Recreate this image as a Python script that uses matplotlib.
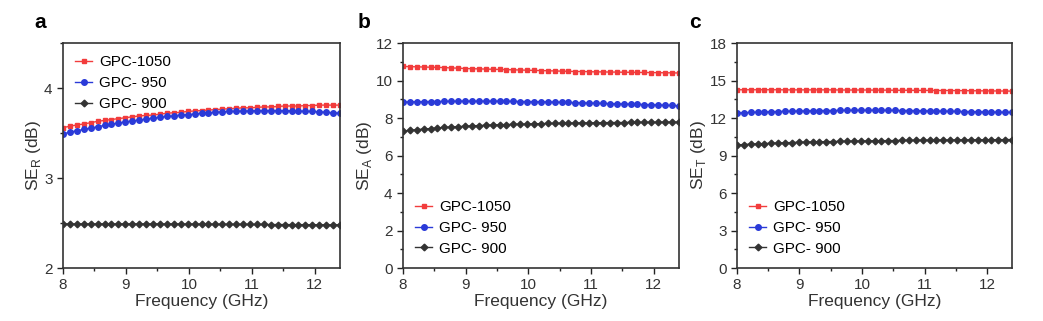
import numpy as np
import matplotlib
matplotlib.use("Agg")
import matplotlib.pyplot as plt
from matplotlib.ticker import MultipleLocator

plt.rcParams['font.family'] = ['Liberation Sans', 'DejaVu Sans']
plt.rcParams['mathtext.fontset'] = 'custom'
plt.rcParams['mathtext.rm'] = 'Liberation Sans'

# X-band sweep, 41 points
freq = np.round(np.linspace(8.0, 12.4, 41), 2)

labels = ['GPC-1050', 'GPC- 950', 'GPC- 900']

# reflection loss SE_R
ser_1050 = [3.56, 3.575, 3.59, 3.60, 3.615, 3.63, 3.64, 3.65, 3.66, 3.67,
            3.68, 3.69, 3.695, 3.70, 3.71, 3.72, 3.725, 3.73, 3.74, 3.745,
            3.75, 3.755, 3.76, 3.765, 3.77, 3.775, 3.78, 3.78, 3.785, 3.79,
            3.79, 3.795, 3.80, 3.80, 3.80, 3.805, 3.805, 3.81, 3.81, 3.81, 3.81]
ser_950 = [3.49, 3.51, 3.525, 3.54, 3.555, 3.57, 3.585, 3.60, 3.61, 3.625,
           3.635, 3.645, 3.655, 3.665, 3.675, 3.685, 3.69, 3.70, 3.705, 3.71,
           3.72, 3.725, 3.73, 3.735, 3.74, 3.74, 3.745, 3.745, 3.75, 3.75,
           3.75, 3.75, 3.75, 3.745, 3.745, 3.74, 3.74, 3.735, 3.73, 3.725, 3.72]
ser_900 = [2.49, 2.49, 2.49, 2.49, 2.49, 2.49, 2.49, 2.49, 2.49, 2.49,
           2.49, 2.49, 2.49, 2.49, 2.49, 2.49, 2.49, 2.49, 2.488, 2.488,
           2.487, 2.487, 2.486, 2.486, 2.485, 2.485, 2.485, 2.484, 2.484, 2.484,
           2.483, 2.483, 2.483, 2.482, 2.482, 2.482, 2.481, 2.481, 2.48, 2.48, 2.48]

# absorption loss SE_A
sea_1050 = [10.75, 10.74, 10.73, 10.72, 10.71, 10.70, 10.69, 10.67, 10.66, 10.64,
            10.63, 10.62, 10.61, 10.60, 10.59, 10.58, 10.57, 10.56, 10.55, 10.54,
            10.53, 10.52, 10.51, 10.50, 10.49, 10.48, 10.48, 10.47, 10.46, 10.46,
            10.45, 10.45, 10.44, 10.44, 10.43, 10.43, 10.42, 10.42, 10.41, 10.41, 10.40]
sea_950 = [8.85, 8.86, 8.87, 8.87, 8.88, 8.88, 8.89, 8.89, 8.90, 8.90,
           8.90, 8.90, 8.90, 8.90, 8.90, 8.89, 8.89, 8.88, 8.88, 8.87,
           8.87, 8.86, 8.85, 8.84, 8.83, 8.82, 8.81, 8.80, 8.79, 8.78,
           8.77, 8.76, 8.75, 8.74, 8.73, 8.72, 8.71, 8.70, 8.68, 8.67, 8.65]
sea_900 = [7.30, 7.34, 7.38, 7.41, 7.44, 7.47, 7.50, 7.52, 7.54, 7.56,
           7.58, 7.60, 7.61, 7.63, 7.64, 7.65, 7.66, 7.67, 7.68, 7.69,
           7.70, 7.71, 7.71, 7.72, 7.73, 7.73, 7.74, 7.74, 7.75, 7.75,
           7.76, 7.76, 7.76, 7.77, 7.77, 7.77, 7.77, 7.78, 7.78, 7.78, 7.78]

# total shielding SE_T
set_1050 = [14.26, 14.26, 14.26, 14.26, 14.26, 14.26, 14.26, 14.25, 14.25, 14.25,
            14.25, 14.25, 14.25, 14.25, 14.25, 14.24, 14.24, 14.24, 14.24, 14.24,
            14.23, 14.23, 14.23, 14.22, 14.22, 14.22, 14.21, 14.21, 14.21, 14.20,
            14.20, 14.20, 14.19, 14.19, 14.18, 14.18, 14.17, 14.17, 14.16, 14.16, 14.15]
set_950 = [12.40, 12.43, 12.45, 12.47, 12.49, 12.51, 12.52, 12.54, 12.55, 12.56,
           12.57, 12.58, 12.59, 12.60, 12.60, 12.61, 12.61, 12.62, 12.62, 12.62,
           12.62, 12.62, 12.61, 12.61, 12.60, 12.60, 12.59, 12.58, 12.57, 12.56,
           12.55, 12.54, 12.53, 12.52, 12.51, 12.50, 12.49, 12.48, 12.47, 12.46, 12.45]
set_900 = [9.85, 9.88, 9.91, 9.94, 9.96, 9.98, 10.00, 10.02, 10.04, 10.06,
           10.07, 10.09, 10.10, 10.11, 10.12, 10.13, 10.14, 10.15, 10.16, 10.17,
           10.18, 10.19, 10.19, 10.20, 10.21, 10.21, 10.22, 10.22, 10.23, 10.23,
           10.24, 10.24, 10.25, 10.25, 10.25, 10.26, 10.26, 10.26, 10.27, 10.27, 10.28]

colors = ['#f23c3c', '#2a3ad8', '#333333']
markers = ['s', 'o', 'D']
msizes = [3.3, 4.0, 3.4]

fig = plt.figure(figsize=(10.43, 3.21), dpi=100)

# tag, tag x, axes rect, series, y label, y limits, major/minor step, legend loc
panels = [
    ('a', 0.033, [0.0604, 0.165, 0.2656, 0.701], [ser_1050, ser_950, ser_900],
     'SE$_\\mathregular{R}$ (dB)', (2, 4.5), 1, 0.5, 'upper left'),
    ('b', 0.343, [0.3863, 0.165, 0.2646, 0.701], [sea_1050, sea_950, sea_900],
     'SE$_\\mathregular{A}$ (dB)', (0, 12), 2, 1, 'lower left'),
    ('c', 0.661, [0.7066, 0.165, 0.2637, 0.701], [set_1050, set_950, set_900],
     'SE$_\\mathregular{T}$ (dB)', (0, 18), 3, 1.5, 'lower left'),
]

for tag, tx, rect, series, ylab, ylim, ymaj, ymin, loc in panels:
    ax = fig.add_axes(rect)
    for vals, lab, c, m, ms in zip(series, labels, colors, markers, msizes):
        ax.plot(freq, vals, color=c, marker=m, markersize=ms, lw=1.0, label=lab)
    ax.set_xlim(8, 12.4)
    ax.set_ylim(*ylim)
    ax.xaxis.set_major_locator(MultipleLocator(1))
    ax.xaxis.set_minor_locator(MultipleLocator(0.5))
    ax.yaxis.set_major_locator(MultipleLocator(ymaj))
    ax.yaxis.set_minor_locator(MultipleLocator(ymin))
    ax.tick_params(which='major', direction='out', length=4, width=1,
                   labelsize=11, colors='#222222', labelcolor='#333333')
    ax.tick_params(which='minor', direction='out', length=2.5, width=1,
                   colors='#222222')
    for s in ax.spines.values():
        s.set_linewidth(1.2)
        s.set_color('#333333')
    ax.set_xlabel('Frequency (GHz)', fontsize=12.5, color='#333333', labelpad=1)
    ax.set_ylabel(ylab, fontsize=12.5, color='#333333', labelpad=1)
    ax.legend(loc=loc, frameon=False, fontsize=11, handlelength=1.1,
              handletextpad=0.45, labelspacing=0.45, borderaxespad=0.4)
    fig.text(tx, 0.93, tag, fontsize=15, fontweight='bold', ha='left', va='center')

fig.savefig('out.png', dpi=100)
